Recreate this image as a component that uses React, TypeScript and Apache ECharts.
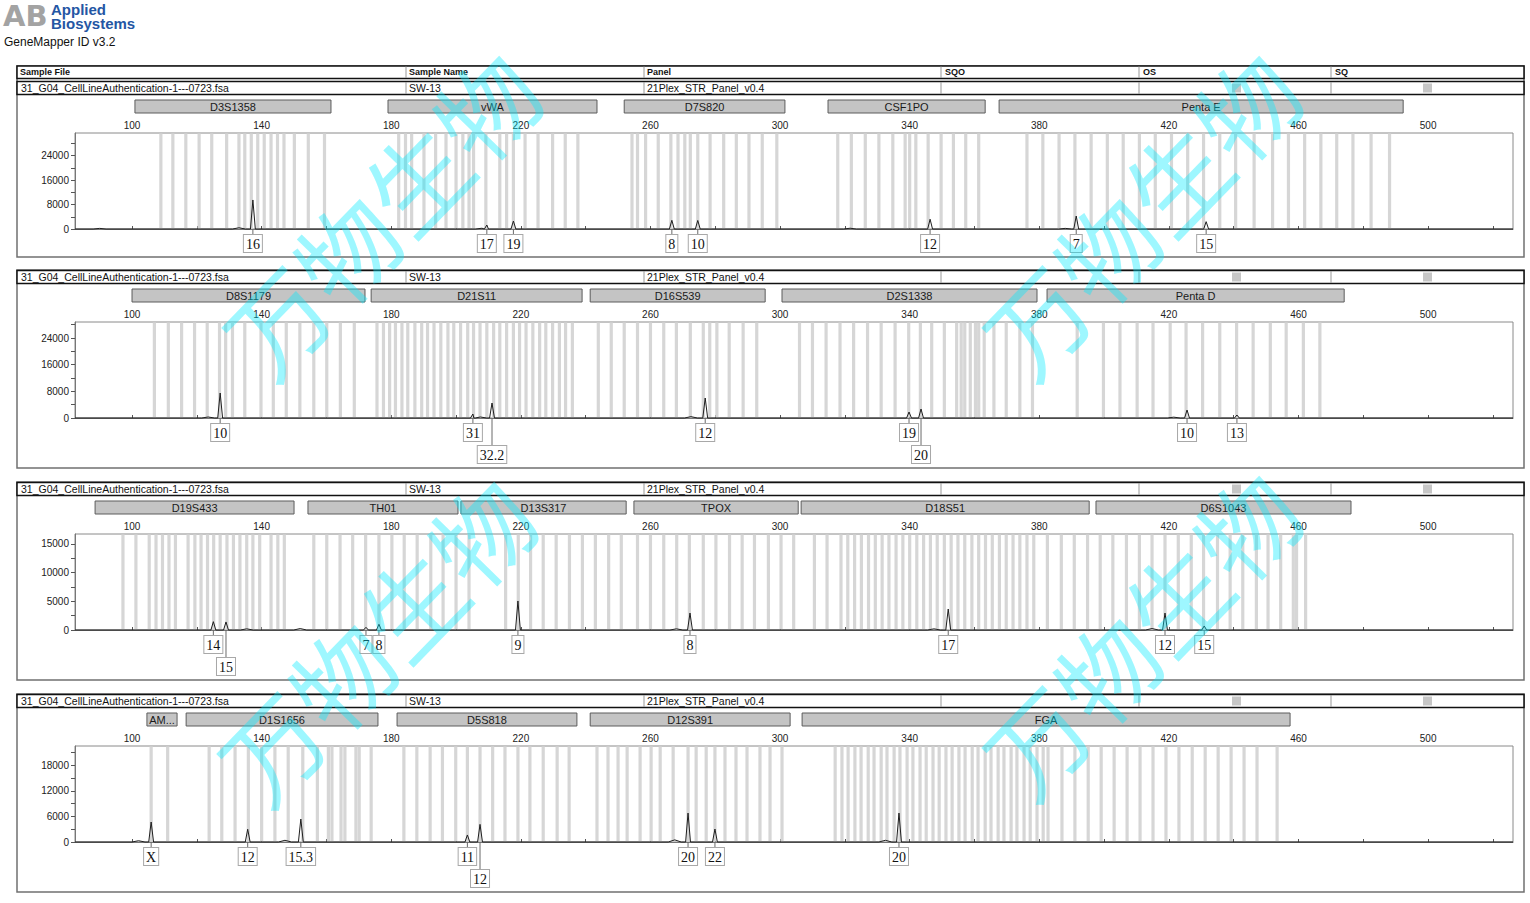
import React, { useEffect, useRef } from "react";
import * as echarts from "echarts";

// ---------- texts ----------
const FILE_NAME = "31_G04_CellLineAuthentication-1---0723.fsa";
const SAMPLE_NAME = "SW-13";
const PANEL_NAME = "21Plex_STR_Panel_v0.4";
const HEADER_COLS = ["Sample File", "Sample Name", "Panel", "SQO", "OS", "SQ"];
const WATERMARK = "万物生物";

// ---------- x axis (size, bp) ----------
const X_MIN = 82.4;
const X_MAX = 526.2;
const xTickValues = [100, 120, 140, 160, 180, 200, 220, 240, 260, 280, 300, 320, 340, 360, 380, 400, 420, 440, 460, 480, 500, 520];
const xLabelValues = [100, 140, 180, 220, 260, 300, 340, 380, 420, 460, 500];

// ---------- panel 1 ----------
const markers1: [string, number, number][] = [
  ["D3S1358", 100.9, 161.4],
  ["vWA", 179.0, 243.5],
  ["D7S820", 251.9, 301.5],
  ["CSF1PO", 314.8, 363.3],
  ["Penta E", 367.6, 492.3],
];
const bins1 = [
  108.9, 112.6, 116.6, 120.7, 124.6, 129.2, 133.0, 134.8, 136.8, 138.8, 140.8, 142.9, 144.9, 146.9, 150.1, 154.4, 159.4,
  182.3, 184.4, 186.3, 190.1, 193.7, 196.9, 200.0, 202.1, 204.0, 205.4, 209.2, 213.5, 215.6, 217.7, 221.3, 225.3, 229.8, 233.7, 237.6,
  254.3, 256.0, 258.5, 262.4, 266.3, 268.5, 270.6, 272.3, 274.6, 278.4, 282.6, 286.5, 290.4, 294.5, 299.0,
  317.8, 322.0, 326.3, 330.5, 334.8, 338.6, 340.0, 341.9, 345.7, 349.7, 353.5, 357.3, 361.3,
  376.2, 381.1, 386.1, 391.0, 396.0, 401.0, 405.9, 410.9, 415.8, 420.8, 425.8, 430.7, 435.7, 440.6, 446.3, 452.0, 456.9, 461.9, 466.9, 471.8, 476.8, 482.4, 488.1,
];
const peaks1: [number, number][] = [
  [137.3, 9500], [209.5, 1300], [217.7, 2600], [266.6, 2850], [274.6, 2800], [346.3, 3200], [391.4, 4250], [431.5, 2400],
];
const noise1: [number, number][] = [[90.0, 200], [133.0, 400], [208.0, 250], [321.6, 250], [388.0, 200]];
const alleles1: [number, string, number][] = [
  [137.3, "16", 0], [209.5, "17", 0], [217.7, "19", 0], [266.6, "8", 0], [274.6, "10", 0], [346.3, "12", 0], [391.4, "7", 0], [431.5, "15", 0],
];
const yMax1 = 31430;
const yTicks1 = [0, 4000, 8000, 12000, 16000, 20000, 24000, 28000];
const yLabels1 = [0, 8000, 16000, 24000];

// ---------- panel 2 ----------
const markers2: [string, number, number][] = [
  ["D8S1179", 100.0, 171.9],
  ["D21S11", 173.8, 238.9],
  ["D16S539", 241.4, 295.4],
  ["D2S1338", 300.6, 379.3],
  ["Penta D", 382.4, 474.1],
];
const bins2 = [
  106.9, 111.2, 115.3, 119.3, 123.2, 127.0, 128.9, 131.0, 134.8, 139.8, 143.6, 147.6, 151.8, 156.1, 160.1, 164.3, 168.6,
  175.6, 177.6, 179.5, 181.3, 183.3, 185.1, 187.3, 189.4, 191.2, 193.2, 195.3, 197.5, 199.3, 201.4, 203.6, 205.4, 207.4, 209.5, 211.6, 213.5, 215.6, 217.7, 219.6, 221.6, 223.7, 225.8, 227.7, 229.8, 231.9, 233.8, 235.9,
  243.9, 247.9, 251.9, 256.0, 260.0, 264.1, 268.0, 272.3, 276.3, 278.3, 280.5, 284.3, 288.6, 292.8,
  306.0, 310.0, 314.2, 318.5, 322.7, 327.0, 331.2, 335.5, 339.7, 343.3, 346.8, 350.7, 354.5, 355.9, 357.0, 358.7, 360.3, 361.3, 363.0, 366.0, 369.8, 374.0, 377.9,
  391.7, 399.8, 404.9, 410.2, 415.1, 420.4, 425.3, 430.4, 435.7, 440.9, 446.0, 451.3, 456.2, 461.5, 466.6,
];
const peaks2: [number, number][] = [
  [127.2, 7500], [205.2, 1200], [211.1, 4500], [276.9, 6000], [339.8, 1800], [343.5, 2700], [425.6, 2400], [441.0, 900],
];
const noise2: [number, number][] = [[123.5, 300], [207.5, 300], [272.5, 400], [421.5, 250]];
const alleles2: [number, string, number][] = [
  [127.2, "10", 0], [205.2, "31", 0], [211.1, "32.2", 1], [276.9, "12", 0], [339.8, "19", 0], [343.5, "20", 1], [425.6, "10", 0], [441.0, "13", 0],
];
const yMax2 = 28800;
const yTicks2 = [0, 4000, 8000, 12000, 16000, 20000, 24000, 28000];
const yLabels2 = [0, 8000, 16000, 24000];

// ---------- panel 3 ----------
const markers3: [string, number, number][] = [
  ["D19S433", 88.6, 150.0],
  ["TH01", 154.3, 200.6],
  ["D13S317", 201.5, 252.5],
  ["TPOX", 254.9, 305.6],
  ["D18S51", 306.5, 395.4],
  ["D6S1043", 397.5, 476.2],
];
const bins3 = [
  97.2, 101.2, 105.3, 107.4, 109.4, 111.4, 113.4, 117.3, 119.4, 121.3, 123.3, 125.2, 127.2, 129.3, 131.3, 133.3, 135.4, 137.3, 139.4, 142.9, 145.0, 147.0,
  156.1, 160.1, 164.2, 168.1, 172.1, 176.2, 180.2, 184.0, 188.0, 192.2, 196.0, 200.0,
  204.0, 215.3, 219.2, 223.0, 226.9, 230.9, 235.0, 239.0, 243.0, 247.1, 251.0,
  256.0, 260.0, 264.1, 268.1, 272.0, 276.3, 280.2, 284.4, 288.3, 292.1, 296.4, 300.3, 304.2,
  310.6, 314.5, 318.8, 320.9, 323.0, 325.1, 327.3, 329.4, 331.5, 333.6, 335.8, 337.9, 340.0, 342.2, 344.3, 346.4, 348.5, 350.7, 352.8, 354.9, 357.0, 359.2, 361.3, 363.4, 365.5, 367.7, 369.8, 371.9, 374.0, 376.2, 378.3, 382.5, 386.8, 390.8, 394.9,
  398.8, 402.7, 406.9, 410.9, 414.8, 418.8, 422.9, 426.9, 430.7, 435.0, 438.9, 442.8, 447.0, 450.6, 454.5, 458.4, 459.4, 462.2,
];
const peaks3: [number, number][] = [
  [125.1, 1450], [129.0, 1400], [172.2, 470], [176.2, 1000], [219.1, 5050], [272.2, 2950], [351.9, 3650], [418.8, 2950], [430.9, 700],
];
const noise3: [number, number][] = [[135.4, 200], [151.9, 250], [268.0, 200], [347.5, 200], [414.8, 250]];
const alleles3: [number, string, number][] = [
  [125.1, "14", 0], [129.0, "15", 1], [172.2, "7", 0], [176.2, "8", 0], [219.1, "9", 0], [272.2, "8", 0], [351.9, "17", 0], [418.8, "12", 0], [430.9, "15", 0],
];
const yMax3 = 16700;
const yTicks3 = [0, 2500, 5000, 7500, 10000, 12500, 15000];
const yLabels3 = [0, 5000, 10000, 15000];

// ---------- panel 4 ----------
const markers4: [string, number, number][] = [
  ["AM...", 104.6, 113.9],
  ["D1S1656", 116.7, 175.9],
  ["D5S818", 181.8, 237.3],
  ["D12S391", 241.4, 303.1],
  ["FGA", 306.8, 457.4],
];
const bins4 = [
  105.9, 111.0,
  123.8, 127.7, 131.8, 135.9, 140.0, 144.1, 148.2, 152.7, 157.2, 160.6, 161.7, 164.5, 165.7, 169.1, 170.1, 173.8,
  183.9, 187.9, 192.0, 195.8, 199.9, 203.5, 207.4, 211.3, 215.1, 219.1, 222.8, 226.9, 231.2, 234.9,
  243.5, 246.9, 250.0, 252.8, 256.8, 260.2, 263.0, 267.0, 271.6, 274.1, 277.2, 279.9, 283.0, 286.4, 289.8, 293.8, 296.9, 300.6,
  317.0, 319.1, 321.0, 323.1, 325.0, 327.2, 329.0, 331.2, 333.0, 335.2, 337.0, 339.2, 341.0, 343.2, 345.1, 347.2, 349.1, 351.2, 353.1, 355.2, 357.1, 359.3, 361.1, 363.3, 365.1, 367.3, 369.1, 371.3, 373.1, 375.3, 377.2, 379.3, 381.2, 382.7,
  387.0, 391.0, 395.1, 399.1, 403.1, 407.1, 411.1, 415.1, 419.1, 423.1, 427.2, 431.2, 435.2, 439.2, 443.2, 447.2, 453.4,
];
const peaks4: [number, number][] = [
  [105.9, 4700], [135.7, 3000], [152.1, 5400], [203.5, 1650], [207.4, 4150], [271.6, 6800], [279.9, 3050], [336.7, 6800],
];
const noise4: [number, number][] = [[102.0, 300], [147.2, 400], [267.5, 500], [332.5, 400]];
const alleles4: [number, string, number][] = [
  [105.9, "X", 0], [135.7, "12", 0], [152.1, "15.3", 0], [203.5, "11", 0], [207.4, "12", 1], [271.6, "20", 0], [279.9, "22", 0], [336.7, "20", 0],
];
const yMax4 = 22570;
const yTicks4 = [0, 3000, 6000, 9000, 12000, 15000, 18000, 21000];
const yLabels4 = [0, 6000, 12000, 18000];

// ---------- layout (pixels) ----------
const W = 1530;
const H = 903;
const GRID_TOP = [133, 322, 534, 746];
const GRID_H = 96;
const BOX = [[66, 257], [270, 468], [482, 680], [694, 892]];
const ROW_Y = [81.5, 270.5, 482.5, 694.5];
const COL_X = [20, 409, 647, 945, 1143, 1335];
const DIV_X = [406, 644, 941, 1139, 1331];
const SANS = '"Liberation Sans", Arial, sans-serif';
const SERIF = '"Liberation Serif", "Times New Roman", serif';

const panels = [
  { markers: markers1, bins: bins1, peaks: peaks1, noise: noise1, alleles: alleles1, yMax: yMax1, yTicks: yTicks1, yLabels: yLabels1 },
  { markers: markers2, bins: bins2, peaks: peaks2, noise: noise2, alleles: alleles2, yMax: yMax2, yTicks: yTicks2, yLabels: yLabels2 },
  { markers: markers3, bins: bins3, peaks: peaks3, noise: noise3, alleles: alleles3, yMax: yMax3, yTicks: yTicks3, yLabels: yLabels3 },
  { markers: markers4, bins: bins4, peaks: peaks4, noise: noise4, alleles: alleles4, yMax: yMax4, yTicks: yTicks4, yLabels: yLabels4 },
];

function buildTrace(peaks: [number, number][], noise: [number, number][]) {
  const pts: [number, number][] = [[X_MIN, 0], [X_MAX, 0]];
  peaks.forEach(([x, h]) => {
    pts.push([x - 0.75, 0], [x, h], [x + 0.75, 0]);
  });
  noise.forEach(([x, h]) => {
    pts.push([x - 2, 0], [x, h], [x + 2, 0]);
  });
  pts.sort((a, b) => a[0] - b[0]);
  return pts;
}

function buildOption() {
  const series: any[] = [];
  panels.forEach((p, i) => {
    // bins (gray stripes)
    series.push({
      type: "custom",
      xAxisIndex: i,
      yAxisIndex: i,
      silent: true,
      z: 1,
      data: p.bins.map((b) => [b, 0]),
      renderItem: (params: any, api: any) => {
        const cs = params.coordSys;
        const x = api.coord([api.value(0), 0])[0];
        return {
          type: "rect",
          shape: { x: x - 1.6, y: cs.y + 0.5, width: 3.2, height: cs.height - 1 },
          style: { fill: "#d6d6d6" },
        };
      },
    });
    // electropherogram trace
    series.push({
      type: "line",
      xAxisIndex: i,
      yAxisIndex: i,
      data: buildTrace(p.peaks, p.noise),
      showSymbol: false,
      symbol: "none",
      clip: false,
      z: 3,
      lineStyle: { color: "#1e1e1e", width: 1 },
      silent: true,
    });
    // marker bars
    series.push({
      type: "custom",
      xAxisIndex: i,
      yAxisIndex: i,
      silent: true,
      z: 2,
      clip: false,
      data: p.markers.map((m, k) => [m[1], 0, m[2], k]),
      renderItem: (params: any, api: any) => {
        const cs = params.coordSys;
        const a = api.coord([api.value(0), 0])[0];
        const b = api.coord([api.value(2), 0])[0];
        const name = p.markers[api.value(3)][0];
        const top = cs.y - 33;
        return {
          type: "group",
          children: [
            { type: "rect", shape: { x: a, y: top, width: b - a, height: 13 }, style: { fill: "#c4c4c4", stroke: "#5c5c5c", lineWidth: 1 } },
            {
              type: "text",
              style: {
                text: name, x: (a + b) / 2, y: top + 7,
                align: "center", verticalAlign: "middle", textAlign: "center", textVerticalAlign: "middle",
                font: `11px ${SANS}`, fill: "#1a1a1a",
              },
            },
          ],
        };
      },
    });
    // allele call labels
    series.push({
      type: "custom",
      xAxisIndex: i,
      yAxisIndex: i,
      silent: true,
      z: 4,
      clip: false,
      data: p.alleles.map((a, k) => [a[0], 0, k]),
      renderItem: (params: any, api: any) => {
        const pt = api.coord([api.value(0), 0]);
        const al = p.alleles[api.value(2)];
        const top = pt[1] + (al[2] ? 28 : 6);
        return {
          type: "group",
          children: [
            { type: "line", shape: { x1: pt[0], y1: pt[1], x2: pt[0], y2: top }, style: { stroke: "#6a6a6a", lineWidth: 1 } },
            {
              type: "text",
              style: {
                text: al[1], x: pt[0], y: top,
                align: "center", verticalAlign: "top", textAlign: "center", textVerticalAlign: "top",
                font: `14px ${SERIF}`, fill: "#111",
                backgroundColor: "#fff", borderColor: "#a8a8a8", borderWidth: 1, padding: [2, 2, 1, 2],
              },
            },
          ],
        };
      },
    });
  });

  // graphic: logo, tables, boxes, watermark
  const g: any[] = [];
  g.push({ type: "text", x: 3, y: 3, style: { text: "AB", font: `bold 29px "DejaVu Sans", sans-serif`, fill: "#a3a3a3", lineHeight: 26 } });
  g.push({ type: "text", x: 51, y: 3, style: { text: "Applied", font: `bold 15px ${SANS}`, fill: "#2456a4", lineHeight: 13 } });
  g.push({ type: "text", x: 51, y: 17, style: { text: "Biosystems", font: `bold 15px ${SANS}`, fill: "#2456a4", lineHeight: 13 } });
  g.push({ type: "text", x: 4, y: 36, style: { text: "GeneMapper ID v3.2", font: `12px ${SANS}`, fill: "#111" } });

  // panel outer boxes
  BOX.forEach(([t, b]) => {
    g.push({ type: "rect", shape: { x: 17, y: t, width: 1507, height: b - t }, style: { fill: "none", stroke: "#707070", lineWidth: 1.5 } });
  });
  // header row (panel 1)
  g.push({ type: "rect", shape: { x: 17, y: 66, width: 1507, height: 12.5 }, style: { fill: "#fff", stroke: "#111", lineWidth: 1.5 } });
  HEADER_COLS.forEach((c, k) => {
    g.push({ type: "text", x: COL_X[k], y: 72, style: { text: c, font: `bold 9px ${SANS}`, fill: "#111", verticalAlign: "middle", textVerticalAlign: "middle" } });
  });
  DIV_X.forEach((dx) => {
    g.push({ type: "line", shape: { x1: dx, y1: 66.5, x2: dx, y2: 78 }, style: { stroke: "#999", lineWidth: 1 } });
  });
  // data rows
  ROW_Y.forEach((ry) => {
    g.push({ type: "rect", shape: { x: 17, y: ry, width: 1507, height: 13 }, style: { fill: "#fff", stroke: "#111", lineWidth: 1.5 } });
    DIV_X.forEach((dx) => {
      g.push({ type: "line", shape: { x1: dx, y1: ry + 0.5, x2: dx, y2: ry + 12.5 }, style: { stroke: "#999", lineWidth: 1 } });
    });
    const vals = [FILE_NAME, SAMPLE_NAME, PANEL_NAME];
    vals.forEach((v, k) => {
      g.push({ type: "text", x: k === 0 ? 21 : COL_X[k], y: ry + 6, style: { text: v, font: `10.5px ${SANS}`, fill: "#111", verticalAlign: "middle", textVerticalAlign: "middle", lineHeight: 11 } });
    });
    g.push({ type: "rect", shape: { x: 1232, y: ry + 2, width: 9, height: 9 }, style: { fill: "#c6c6c6" } });
    g.push({ type: "rect", shape: { x: 1423, y: ry + 2, width: 9, height: 9 }, style: { fill: "#c6c6c6" } });
  });
  // watermark
  [[380, 212], [1140, 212], [375, 638], [1140, 632]].forEach(([cx, cy]) => {
    g.push({
      type: "text", x: cx, y: cy, rotation: 0.8, z: 100, silent: true,
      style: {
        text: WATERMARK, font: `100px "Noto Sans CJK SC", sans-serif`, fill: "rgba(0,235,255,0.38)",
        align: "center", verticalAlign: "middle", textAlign: "center", textVerticalAlign: "middle", lineHeight: 100,
      },
    });
  });

  return {
    animation: false,
    backgroundColor: "#fff",
    grid: panels.map((_, i) => ({
      left: 75, right: 17, top: GRID_TOP[i], height: GRID_H,
      show: true, borderColor: "#8a8a8a", borderWidth: 1, backgroundColor: "transparent",
    })),
    xAxis: panels.map((_, i) => ({
      type: "value",
      gridIndex: i,
      position: "top",
      min: X_MIN,
      max: X_MAX,
      axisLine: { show: true, lineStyle: { color: "#777" } },
      axisTick: { show: true, customValues: xTickValues, length: 3, lineStyle: { color: "#555" } },
      axisLabel: { customValues: xLabelValues, fontSize: 10, color: "#222", margin: 3, fontFamily: SANS },
      splitLine: { show: false },
    })),
    yAxis: panels.map((p, i) => ({
      type: "value",
      gridIndex: i,
      min: 0,
      max: p.yMax,
      axisLine: { show: true, lineStyle: { color: "#777" } },
      axisTick: { show: true, customValues: p.yTicks, length: 4, lineStyle: { color: "#555" } },
      axisLabel: { customValues: p.yLabels, fontSize: 10, color: "#222", margin: 6, fontFamily: SANS, formatter: (v: number) => String(v) },
      splitLine: { show: false },
    })),
    graphic: { elements: g },
    series,
  };
}

export default function App() {
  const ref = useRef<HTMLDivElement>(null);
  useEffect(() => {
    document.body.style.margin = "0";
    if (!ref.current) return;
    const chart = echarts.init(ref.current, null, { renderer: "svg" });
    chart.setOption(buildOption() as any);
    return () => chart.dispose();
  }, []);
  return <div ref={ref} style={{ width: W, height: H, background: "#fff" }} />;
}
